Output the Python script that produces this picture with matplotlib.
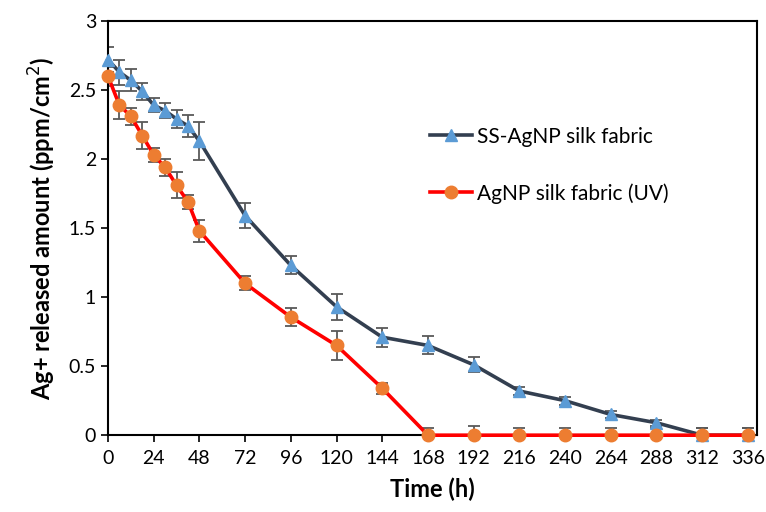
import numpy as np
import matplotlib.pyplot as plt

# tiempos de muestreo (h)
time_h = [0, 6, 12, 18, 24, 30, 36, 42, 48, 72, 96, 120, 144, 168, 192, 216, 240, 264, 288, 312, 336]

# SS-AgNP silk fabric
ss_vals = [2.72, 2.63, 2.57, 2.49, 2.39, 2.35, 2.29, 2.24, 2.13, 1.59, 1.23, 0.93, 0.71, 0.65, 0.51, 0.32, 0.25, 0.15, 0.09, 0.0, 0.0]
ss_err = [0.09, 0.09, 0.08, 0.06, 0.05, 0.055, 0.065, 0.08, 0.14, 0.09, 0.065, 0.095, 0.07, 0.065, 0.055, 0.03, 0.03, 0.025, 0.02, 0.05, 0.05]

# AgNP silk fabric (UV)
uv_vals = [2.60, 2.39, 2.31, 2.17, 2.03, 1.94, 1.81, 1.69, 1.48, 1.10, 0.855, 0.65, 0.34, 0.0, 0.0, 0.0, 0.0, 0.0, 0.0, 0.0, 0.0]
uv_err = [0.07, 0.10, 0.06, 0.10, 0.05, 0.06, 0.095, 0.05, 0.08, 0.05, 0.065, 0.105, 0.04, 0.05, 0.07, 0.05, 0.05, 0.05, 0.05, 0.05, 0.05]

x_ticks = list(range(0, 337, 24))
y_ticks = [0, 0.5, 1, 1.5, 2, 2.5, 3]
y_tick_labels = ['0', '0.5', '1', '1.5', '2', '2.5', '3']

plt.rcParams['font.family'] = ['Lato', 'DejaVu Sans']

fig = plt.figure(figsize=(7.66, 5.12), dpi=100)
ax = fig.add_axes([0.141, 0.150, 0.847, 0.809])

err_color = '#595959'
# barras de error (recortadas en el eje)
ax.errorbar(time_h, ss_vals, yerr=ss_err, fmt='none', ecolor=err_color, elinewidth=1.3, capsize=4.5, capthick=1.3, zorder=2)
ax.errorbar(time_h, uv_vals, yerr=uv_err, fmt='none', ecolor=err_color, elinewidth=1.3, capsize=4.5, capthick=1.3, zorder=2)

ax.plot(time_h, ss_vals, color='#333F50', linewidth=2.6, marker='^', markersize=9,
        markerfacecolor='#5B9BD5', markeredgecolor='#5B9BD5', label='SS-AgNP silk fabric', zorder=3, clip_on=False)
ax.plot(time_h, uv_vals, color='#FF0000', linewidth=2.6, marker='o', markersize=9,
        markerfacecolor='#ED7D31', markeredgecolor='#ED7D31', label='AgNP silk fabric (UV)', zorder=4, clip_on=False)

ax.set_xlim(0, 340.7)
ax.set_ylim(0, 3)
ax.set_xticks(x_ticks)
ax.set_yticks(y_ticks)
ax.set_yticklabels(y_tick_labels)
ax.tick_params(axis='both', labelsize=14, direction='out', length=5, width=1.2, top=False, right=False)
ax.tick_params(axis='x', pad=6)
for sp_ in ax.spines.values():
    sp_.set_linewidth(1.5)
    sp_.set_color('black')

ax.set_xlabel('Time (h)', fontsize=17, fontweight='bold', labelpad=7)
ax.set_ylabel('Ag+ released amount (ppm/cm$^2$)', fontsize=17, fontweight='bold', labelpad=8)

ax.legend(loc='upper left', bbox_to_anchor=(0.468, 0.79), frameon=False, fontsize=15,
          labelspacing=1.75, handlelength=2.0, handletextpad=0.25)

fig.savefig('out.png', dpi=100)
